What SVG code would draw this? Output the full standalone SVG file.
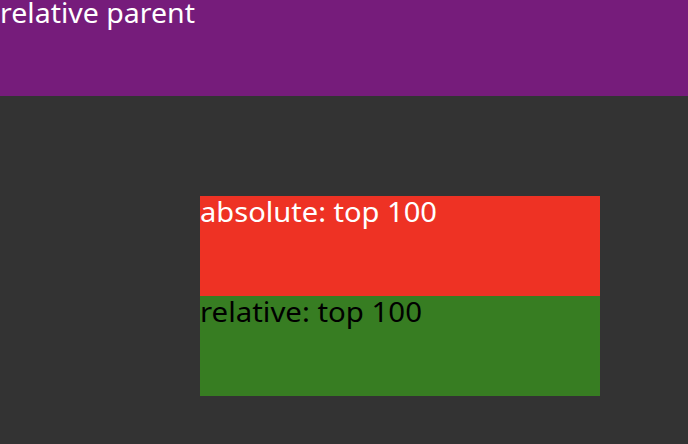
<svg xmlns="http://www.w3.org/2000/svg" width="688" height="444" viewBox="0 0 688 444">
<style>
text{font-family:"Noto Sans","Noto Sans CJK KR",sans-serif;font-size:27px}
.w{fill:#ffffff}
.k{fill:#000000}
</style>
<rect width="688" height="444" fill="#333333"/>
<g id="parent">
<rect x="0" y="0" width="688" height="96" fill="#761c7b"/>
<text class="w" x="0" y="23" textLength="195" lengthAdjust="spacingAndGlyphs">relative parent</text>
</g>
<g id="absolute">
<rect x="200" y="196" width="400" height="100" fill="#ee3224"/>
<text class="w" x="200" y="222" textLength="237" lengthAdjust="spacingAndGlyphs">absolute: top 100</text>
</g>
<g id="relative">
<rect x="200" y="296" width="400" height="100" fill="#377d22"/>
<text class="k" x="200" y="322" textLength="222" lengthAdjust="spacingAndGlyphs">relative: top 100</text>
</g>
</svg>
